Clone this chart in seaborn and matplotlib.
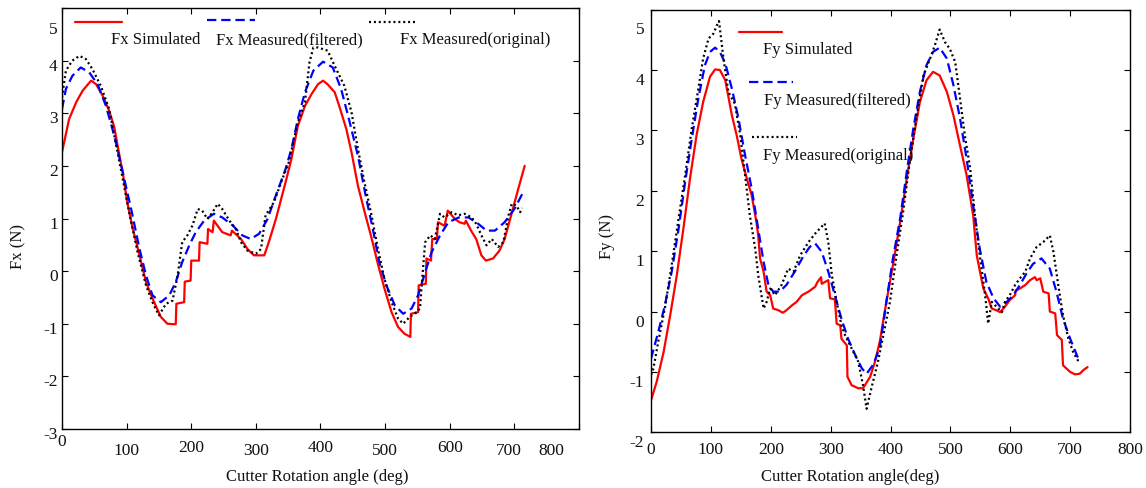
import matplotlib
matplotlib.use("Agg")
import matplotlib.pyplot as plt
import matplotlib.transforms as mtrans
from matplotlib.lines import Line2D
import seaborn as sns
import pandas as pd

# ---------------- data ----------------
FX_SIM_DEG = [0, 11, 22, 32, 45, 53, 63, 73, 81, 89, 94, 101, 109, 120, 130, 140, 153, 163, 176, 177,
              189, 190, 199, 200, 212, 213, 225, 226, 233, 235, 248, 261, 263, 277, 287, 297, 313, 320, 331, 346,
              355, 365, 376, 386, 396, 404, 411, 422, 429, 440, 448, 458, 468, 479, 489, 499, 510, 520, 530, 539,
              540, 551, 552, 563, 564, 571, 573, 580, 582, 592, 597, 608, 615, 623, 625, 633, 641, 649, 656, 667,
              677, 685, 695, 706, 716]
FX_SIM = [2.26, 2.89, 3.21, 3.43, 3.62, 3.55, 3.33, 3.05, 2.73, 2.19, 1.88, 1.31, 0.83, 0.30, -0.21, -0.52, -0.87, -1.0, -1.01, -0.62,
          -0.59, -0.2, -0.18, 0.2, 0.2, 0.55, 0.52, 0.8, 0.74, 0.96, 0.74, 0.68, 0.77, 0.61, 0.42, 0.30, 0.30, 0.55, 0.99, 1.69,
          2.13, 2.76, 3.14, 3.36, 3.55, 3.62, 3.55, 3.4, 3.14, 2.70, 2.26, 1.62, 1.14, 0.63, 0.13, -0.33, -0.78, -1.06, -1.19, -1.25,
          -0.81, -0.78, -0.27, -0.24, 0.24, 0.2, 0.61, 0.61, 0.93, 0.86, 1.15, 0.99, 0.93, 0.9, 0.96, 0.77, 0.61, 0.3, 0.2, 0.24,
          0.39, 0.61, 1.06, 1.56, 2.0]

FX_FILT_DEG = [0, 6, 16, 29, 42, 55, 68, 81, 94, 107, 120, 130, 140, 153, 166, 176, 186, 197, 207, 220,
               235, 248, 264, 279, 292, 305, 318, 331, 346, 355, 365, 376, 389, 404, 419, 432, 444, 458, 470, 481,
               491, 502, 515, 528, 541, 551, 562, 572, 585, 598, 614, 629, 644, 657, 670, 685, 700, 715]
FX_FILT = [3.08, 3.46, 3.71, 3.87, 3.78, 3.55, 3.14, 2.57, 1.88, 1.18, 0.42, -0.08, -0.46, -0.59, -0.46, -0.21, 0.17, 0.49, 0.74, 0.96,
           1.09, 1.02, 0.87, 0.68, 0.61, 0.71, 0.99, 1.44, 1.94, 2.32, 2.89, 3.40, 3.81, 3.98, 3.87, 3.46, 2.89, 2.19, 1.43, 0.80,
           0.17, -0.27, -0.65, -0.81, -0.71, -0.46, -0.02, 0.36, 0.68, 0.93, 1.02, 1.02, 0.90, 0.77, 0.77, 0.93, 1.18, 1.53]

FX_ORIG_DEG = [0, 6, 16, 27, 37, 47, 60, 73, 83, 94, 104, 117, 130, 140, 150, 161, 171, 179, 186, 194,
               202, 210, 217, 225, 233, 241, 248, 259, 269, 277, 287, 300, 308, 315, 328, 341, 351, 365, 376, 383,
               389, 396, 411, 422, 437, 448, 458, 468, 479, 489, 499, 510, 520, 528, 538, 546, 554, 557, 562, 570,
               577, 585, 592, 603, 613, 623, 634, 641, 649, 657, 665, 675, 683, 691, 696, 703, 709, 712]
FX_ORIG = [3.30, 3.81, 4.0, 4.09, 4.03, 3.84, 3.52, 3.08, 2.45, 1.75, 1.12, 0.36, -0.27, -0.59, -0.84, -0.62, -0.56, -0.08, 0.55, 0.68,
           0.87, 1.18, 1.15, 0.99, 1.12, 1.28, 1.18, 0.96, 0.80, 0.55, 0.39, 0.33, 0.42, 1.06, 1.31, 1.75, 2.07, 2.83, 3.21, 3.97,
           4.25, 4.25, 4.19, 3.90, 3.52, 3.02, 2.32, 1.69, 1.06, 0.42, -0.15, -0.59, -0.90, -1.0, -0.87, -0.81, -0.71, -0.21, 0.55, 0.68,
           0.61, 1.09, 1.02, 1.12, 1.06, 1.09, 1.02, 0.90, 0.68, 0.49, 0.61, 0.46, 0.55, 1.06, 1.28, 1.25, 1.12, 1.2]

FY_SIM_DEG = [0, 9.5, 21, 32, 43, 54, 65, 76, 87, 98.5, 107, 115, 124, 135, 143, 151, 160, 168, 176, 179,
              182, 188, 193, 199, 204, 213, 220, 226, 235, 243, 252, 263, 274, 278, 284, 285, 296, 299, 307, 310,
              316, 318, 327, 328, 335, 346, 354, 366, 374, 382, 393, 404, 416, 427, 438, 449, 460, 471, 482, 494,
              505, 516, 527, 538, 544, 555, 563, 569, 577, 583, 591, 599, 608, 609, 616, 625, 633, 641, 644, 650,
              655, 664, 666, 675, 678, 686, 688, 700, 708, 716, 722, 729]
FY_SIM = [-1.47, -1.16, -0.67, -0.06, 0.60, 1.37, 2.20, 2.92, 3.47, 3.89, 4.01, 4.0, 3.83, 3.25, 2.92, 2.53, 2.20, 1.93, 1.48, 1.26,
          0.88, 0.66, 0.33, 0.27, 0.05, 0.02, -0.02, 0.02, 0.10, 0.16, 0.27, 0.33, 0.41, 0.49, 0.57, 0.46, 0.52, 0.22, 0.20, -0.20,
          -0.23, -0.45, -0.56, -1.08, -1.22, -1.27, -1.27, -1.08, -0.83, -0.5, 0.16, 0.77, 1.48, 2.20, 2.86, 3.47, 3.83, 3.97, 3.91, 3.64,
          3.25, 2.75, 2.26, 1.59, 0.93, 0.38, 0.22, 0.05, 0.02, -0.01, 0.08, 0.19, 0.27, 0.35, 0.38, 0.44, 0.52, 0.57, 0.52, 0.55,
          0.33, 0.30, 0.0, -0.03, -0.39, -0.47, -0.89, -1.0, -1.04, -1.03, -0.97, -0.92]

FY_FILT_DEG = [0, 12, 23, 34.5, 46, 57, 68, 79, 90, 98.5, 107, 115, 124, 135, 146, 157, 168, 179, 188, 196,
               204, 215, 226, 240, 254, 265, 274, 285, 296, 307, 318, 329, 341, 352, 360, 371, 382, 393, 404, 416,
               427, 438, 449, 460, 471, 482, 494, 505, 516, 527, 538, 549, 560, 572, 583, 594, 605, 616, 627, 638,
               652, 666, 677, 688, 700, 711, 716]
FY_FILT = [-0.78, -0.34, 0.10, 0.66, 1.37, 2.15, 2.86, 3.53, 4.08, 4.30, 4.37, 4.30, 4.11, 3.69, 3.20, 2.59, 2.04, 1.37, 0.82, 0.44,
           0.33, 0.33, 0.44, 0.66, 0.91, 1.07, 1.13, 0.99, 0.66, 0.27, -0.12, -0.45, -0.72, -0.94, -1.03, -0.88, -0.6, 0.16, 0.88, 1.54,
           2.31, 3.03, 3.64, 4.08, 4.30, 4.37, 4.19, 3.75, 3.20, 2.53, 1.76, 1.04, 0.49, 0.22, 0.08, 0.16, 0.27, 0.44, 0.63, 0.79,
           0.88, 0.71, 0.33, -0.12, -0.45, -0.72, -0.83]

FY_ORIG_DEG = [0, 4, 12, 23, 34.5, 46, 57, 68, 79, 87, 96, 104, 110, 113.5, 121, 129, 140, 149, 157, 165,
               174, 179, 188, 193, 199, 207, 218, 229, 238, 249, 263, 274, 290, 296, 302, 310, 318, 324, 335, 346,
               354, 360, 368, 379, 388, 399, 410, 421, 432, 443, 455, 466, 474, 482, 491, 499, 508, 516, 524, 533,
               541, 549, 558, 563, 569, 577, 586, 591, 599, 608, 616, 625, 633, 644, 655, 666, 672, 680, 688, 697,
               705, 714]
FY_ORIG = [-1.05, -0.94, -0.50, 0.05, 0.77, 1.54, 2.26, 3.03, 3.69, 4.19, 4.52, 4.60, 4.74, 4.81, 4.19, 3.64, 3.44, 2.92, 2.26, 1.59,
           1.04, 0.60, 0.05, 0.16, 0.38, 0.27, 0.44, 0.71, 0.66, 0.93, 1.15, 1.29, 1.46, 1.15, 0.60, 0.16, -0.23, -0.39, -0.61, -0.83,
           -1.22, -1.61, -1.27, -0.83, -0.39, 0.16, 0.93, 1.65, 2.48, 3.20, 3.91, 4.19, 4.41, 4.67, 4.46, 4.35, 4.13, 3.53, 2.92, 2.37,
           1.59, 0.93, 0.27, -0.20, 0.16, 0.08, -0.01, 0.16, 0.27, 0.44, 0.55, 0.66, 0.88, 1.07, 1.15, 1.26, 0.99, 0.44, -0.06, -0.45,
           -0.67, -0.83]

X_TICKS = [0, 100, 200, 300, 400, 500, 600, 700, 800]
FX_YTICKS = [-3, -2, -1, 0, 1, 2, 3, 4, 5]
FY_YTICKS = [-2, -1, 0, 1, 2, 3, 4, 5]

LEG_FX = ["Fx Simulated", "Fx Measured(filtered)", "Fx Measured(original)"]
LEG_FY = ["Fy Simulated", "Fy Measured(filtered)", "Fy Measured(original)"]
X_LABEL_L = "Cutter Rotation angle (deg)"
X_LABEL_R = "Cutter Rotation angle(deg)"

# ---------------- style ----------------
sns.set_theme(style="ticks")
plt.rcParams['font.family'] = ['Liberation Serif', 'DejaVu Serif']
plt.rcParams['axes.linewidth'] = 1.0

RED = "#ff0000"
BLUE = "#0000ff"
BLACK = "#000000"
LW = 1.6
STYLES = [dict(color=RED, linewidth=LW, linestyle="-"),
          dict(color=BLUE, linewidth=LW, linestyle=(0, (4.2, 2.2))),
          dict(color=BLACK, linewidth=LW, linestyle=(0, (0.9, 1.3)))]

fig = plt.figure(figsize=(11.46, 4.88), dpi=100)
fig.patch.set_facecolor("white")
axL = fig.add_axes([0.0541, 0.1209, 0.4511, 0.8627])
axR = fig.add_axes([0.5681, 0.1141, 0.4180, 0.8662])


def draw(ax, series):
    for (xs, ys), st in zip(series, STYLES):
        df = pd.DataFrame({"deg": xs, "val": ys})
        sns.lineplot(data=df, x="deg", y="val", ax=ax, estimator=None, sort=False,
                     legend=False, **st)


draw(axL, [(FX_SIM_DEG, FX_SIM), (FX_FILT_DEG, FX_FILT), (FX_ORIG_DEG, FX_ORIG)])
draw(axR, [(FY_SIM_DEG, FY_SIM), (FY_FILT_DEG, FY_FILT), (FY_ORIG_DEG, FY_ORIG)])

for ax, yt in [(axL, FX_YTICKS), (axR, FY_YTICKS)]:
    ax.set_facecolor("white")
    ax.set_xlim(0, 800)
    ax.set_ylim(yt[0], yt[-1])
    ax.set_xticks(X_TICKS)
    ax.set_yticks(yt)
    ax.set_xticklabels([str(v) for v in X_TICKS])
    ax.set_yticklabels([str(v) for v in yt])
    ax.set_xlabel("")
    ax.set_ylabel("")
    ax.grid(False)
    for s in ax.spines.values():
        s.set_visible(True)
        s.set_color("black")
        s.set_linewidth(1.0)
    ax.tick_params(direction="in", top=True, right=True, length=4, width=0.8,
                   color="black", labelsize=12.5, labelcolor="#111111")

axL.tick_params(axis="x", pad=10)
axL.tick_params(axis="y", pad=3)
axR.tick_params(axis="x", pad=7)
axR.tick_params(axis="y", pad=5)


def shift(label, dx, dy):
    label.set_transform(label.get_transform() +
                        mtrans.ScaledTranslation(dx / 100.0, -dy / 100.0, fig.dpi_scale_trans))


for lab in axL.get_yticklabels():
    shift(lab, 0, 20 if lab.get_text() == "5" else 4)
for lab in axR.get_yticklabels():
    shift(lab, 0, 18 if lab.get_text() == "5" else 9)
for lab in axL.get_xticklabels():
    t = lab.get_text()
    if t == "0":
        shift(lab, 0, -9)
    elif t == "800":
        shift(lab, -28, 0)
    elif t == "700":
        shift(lab, -6, 0)
    elif t in ("200", "400", "600"):
        shift(lab, 0, -3)

# manual legends (line sample above the text)
leg_l = [((0.0255, 0.1164), 0.9675, 0.0947),
         ((0.280, 0.373), 0.9715, 0.2975),
         ((0.593, 0.684), 0.966, 0.653)]
for (xr, yl, xt), st, txt in zip(leg_l, STYLES, LEG_FX):
    axL.add_line(Line2D(list(xr), [yl, yl], transform=axL.transAxes, **st))
    axL.text(xt, 0.924, txt, transform=axL.transAxes, fontsize=12, va="center", ha="left", color="#111111")

leg_r = [((0.1837, 0.2741), 0.9477, 0.2338, 0.9051),
         ((0.2046, 0.2965), 0.828, 0.2365, 0.7845),
         ((0.2109, 0.3042), 0.6979, 0.2344, 0.6544)]
for (xr, yl, xt, yt_), st, txt in zip(leg_r, STYLES, LEG_FY):
    axR.add_line(Line2D(list(xr), [yl, yl], transform=axR.transAxes, **st))
    axR.text(xt, yt_, txt, transform=axR.transAxes, fontsize=12, va="center", ha="left", color="#111111")

# axis titles
fig.text(0.2766, 0.0225, X_LABEL_L, ha="center", va="center", fontsize=12, color="#111111")
fig.text(0.7417, 0.0225, X_LABEL_R, ha="center", va="center", fontsize=12, color="#111111")
fig.text(0.0161, 0.494, "Fx (N)", rotation=90, ha="center", va="center", fontsize=12, color="#111111")
fig.text(0.5297, 0.516, "Fy (N)", rotation=90, ha="center", va="center", fontsize=12, color="#111111")

fig.savefig("out.png", dpi=100, facecolor="white")
